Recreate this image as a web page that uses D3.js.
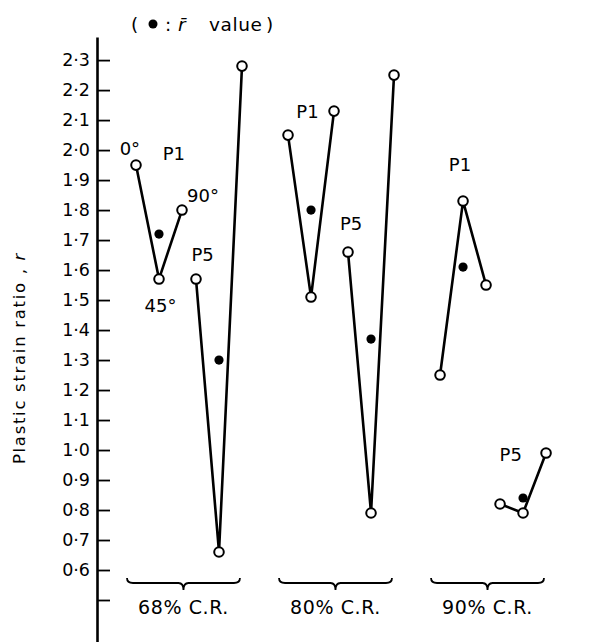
<!DOCTYPE html>
<html>
<head>
<meta charset="utf-8">
<script src="https://cdn.jsdelivr.net/npm/d3@7"></script>
<style>
  html, body { margin: 0; padding: 0; background: #fff; }
  svg { display: block; font-family: "DejaVu Sans", sans-serif; }
</style>
</head>
<body>
<svg id="chart" width="596" height="642"></svg>
<script>
// Cold-reduction groups, processing routes and test directions
const groups = ["68%", "80%", "90%"];
const groupLabels = ["68% C.R.", "80% C.R.", "90% C.R."];
const seriesNames = ["P1", "P5"];
const angles = [0, 45, 90];

// Plastic strain ratio r at 0°, 45°, 90° to the rolling direction
const r68P1 = [1.95, 1.57, 1.80];
const r68P5 = [1.57, 0.66, 2.28];
const r80P1 = [2.05, 1.51, 2.13];
const r80P5 = [1.66, 0.79, 2.25];
const r90P1 = [1.25, 1.83, 1.55];
const r90P5 = [0.82, 0.79, 0.99];

// Mean r̄ = (r0 + 2 r45 + r90) / 4, for P1 and P5
const rBar68 = [1.72, 1.30];
const rBar80 = [1.80, 1.37];
const rBar90 = [1.61, 0.84];

// Axis ticks
const tickValues = [0.5, 0.6, 0.7, 0.8, 0.9, 1.0, 1.1, 1.2, 1.3, 1.4, 1.5,
                    1.6, 1.7, 1.8, 1.9, 2.0, 2.1, 2.2, 2.3];

// Annotations: text anchored in (group, series, angle, r) units
const seriesLabels = [
  { text: "P1", group: "68%", series: "P1", angle: 74, r: 1.967 },
  { text: "P5", group: "68%", series: "P5", angle: 13, r: 1.63 },
  { text: "P1", group: "80%", series: "P1", angle: 38, r: 2.107 },
  { text: "P5", group: "80%", series: "P5", angle: 6, r: 1.733 },
  { text: "P1", group: "90%", series: "P1", angle: 39, r: 1.93 },
  { text: "P5", group: "90%", series: "P5", angle: 21, r: 0.963 }
];
const angleLabels = [
  { text: "0°", group: "68%", series: "P1", angle: -12, r: 1.983 },
  { text: "45°", group: "68%", series: "P1", angle: 48, r: 1.46 },
  { text: "90°", group: "68%", series: "P1", angle: 131, r: 1.827 }
];

const rTable = { "68%": [r68P1, r68P5], "80%": [r80P1, r80P5], "90%": [r90P1, r90P5] };
const rBarTable = { "68%": rBar68, "80%": rBar80, "90%": rBar90 };

const svg = d3.select("#chart");
const axisX = 97;

// Scales
const y = d3.scaleLinear().domain([0.36, 2.377]).range([642, 37]);
const xGroup = d3.scaleBand().domain(groups).range([127, 544])
  .paddingInner(0.257).paddingOuter(0);
const xSeries = d3.scalePoint().domain(seriesNames).range([9, 69]);
const xAngle = d3.scaleLinear().domain([0, 90]).range([0, 46]);
const xPos = (g, s, a) => xGroup(g) + xSeries(s) + xAngle(a);

// Y axis: ticks point inward, labels on the left with a raised decimal point
const fmt = d3.format(".1f");
const yAxis = d3.axisLeft(y)
  .tickValues(tickValues)
  .tickSize(-13)
  .tickSizeOuter(0)
  .tickPadding(7)
  .tickFormat(v => v < 0.55 ? "" : fmt(v).replace(".", "·"));

const gAxis = svg.append("g")
  .attr("transform", `translate(${axisX},0)`)
  .call(yAxis);
gAxis.select(".domain").attr("stroke", "#000").attr("stroke-width", 2.6);
gAxis.selectAll(".tick line").attr("stroke", "#000").attr("stroke-width", 1.8);
gAxis.selectAll(".tick text")
  .attr("fill", "#000")
  .style("font-size", "17.5px")
  .style("font-family", "'DejaVu Sans', sans-serif");

// Y axis title
svg.append("text")
  .attr("transform", "translate(25,358) rotate(-90)")
  .attr("text-anchor", "middle")
  .style("font-size", "16.5px")
  .style("letter-spacing", "1.7px")
  .attr("fill", "#000")
  .call(t => {
    t.append("tspan").text("Plastic strain ratio , ");
    t.append("tspan").attr("font-style", "italic").text("r");
  });

// Legend title: ( ● : r̄  value )
const legend = svg.append("text")
  .attr("y", 31)
  .style("font-size", "18.5px")
  .attr("fill", "#000");
legend.append("tspan").attr("x", 131).text("(");
legend.append("tspan").attr("x", 165).text(":");
legend.append("tspan").attr("x", 178).attr("font-style", "italic").text("r\u0304");
legend.append("tspan").attr("x", 209).style("letter-spacing", "0.6px").text("value");
legend.append("tspan").attr("x", 266).text(")");
svg.append("circle")
  .attr("cx", 153).attr("cy", 24).attr("r", 4.5)
  .attr("fill", "#000");

// Build series data
const seriesData = [];
groups.forEach(g => {
  seriesNames.forEach((s, si) => {
    seriesData.push({
      group: g,
      series: s,
      points: angles.map((a, ai) => ({ angle: a, r: rTable[g][si][ai] })),
      rBar: rBarTable[g][si]
    });
  });
});

const line = d3.line();

const plot = svg.append("g");

// Connecting lines 0° → 45° → 90°
plot.selectAll("path.series")
  .data(seriesData)
  .join("path")
  .attr("class", "series")
  .attr("fill", "none")
  .attr("stroke", "#000")
  .attr("stroke-width", 2.6)
  .attr("stroke-linejoin", "miter")
  .attr("d", d => line(d.points.map(p => [xPos(d.group, d.series, p.angle), y(p.r)])));

// Open circles for directional r values
plot.selectAll("g.pts")
  .data(seriesData)
  .join("g")
  .attr("class", "pts")
  .selectAll("circle")
  .data(d => d.points.map(p => ({ ...p, group: d.group, series: d.series })))
  .join("circle")
  .attr("cx", p => xPos(p.group, p.series, p.angle))
  .attr("cy", p => y(p.r))
  .attr("r", 4.8)
  .attr("fill", "#fff")
  .attr("stroke", "#000")
  .attr("stroke-width", 2);

// Filled dots for mean r̄
plot.selectAll("circle.rbar")
  .data(seriesData)
  .join("circle")
  .attr("class", "rbar")
  .attr("cx", d => xPos(d.group, d.series, 45))
  .attr("cy", d => y(d.rBar))
  .attr("r", 4.6)
  .attr("fill", "#000");

// Series and direction labels
plot.selectAll("text.lbl")
  .data(seriesLabels.concat(angleLabels))
  .join("text")
  .attr("class", "lbl")
  .attr("x", d => xPos(d.group, d.series, d.angle))
  .attr("y", d => y(d.r))
  .attr("text-anchor", "middle")
  .style("font-size", "18px")
  .attr("fill", "#000")
  .text(d => d.text);

// Braces under each group with the cold-reduction label
const braceTop = 578, braceMid = 583, braceTip = 590;
const bracePath = g => {
  const x0 = xGroup(g), x1 = xGroup(g) + xGroup.bandwidth(), cx = (x0 + x1) / 2;
  const p = d3.path();
  p.moveTo(x0, braceTop);
  p.quadraticCurveTo(x0, braceMid, x0 + 6, braceMid);
  p.lineTo(cx - 5, braceMid);
  p.quadraticCurveTo(cx, braceMid, cx, braceTip);
  p.quadraticCurveTo(cx, braceMid, cx + 5, braceMid);
  p.lineTo(x1 - 6, braceMid);
  p.quadraticCurveTo(x1, braceMid, x1, braceTop);
  return p.toString();
};

svg.selectAll("path.brace")
  .data(groups)
  .join("path")
  .attr("class", "brace")
  .attr("fill", "none")
  .attr("stroke", "#000")
  .attr("stroke-width", 1.8)
  .attr("d", bracePath);

svg.selectAll("text.group")
  .data(groups)
  .join("text")
  .attr("class", "group")
  .attr("x", g => xGroup(g) + xGroup.bandwidth() / 2)
  .attr("y", 614)
  .attr("text-anchor", "middle")
  .style("font-size", "19px")
  .style("letter-spacing", "0.6px")
  .attr("fill", "#000")
  .text((g, i) => groupLabels[i]);
</script>
</body>
</html>
